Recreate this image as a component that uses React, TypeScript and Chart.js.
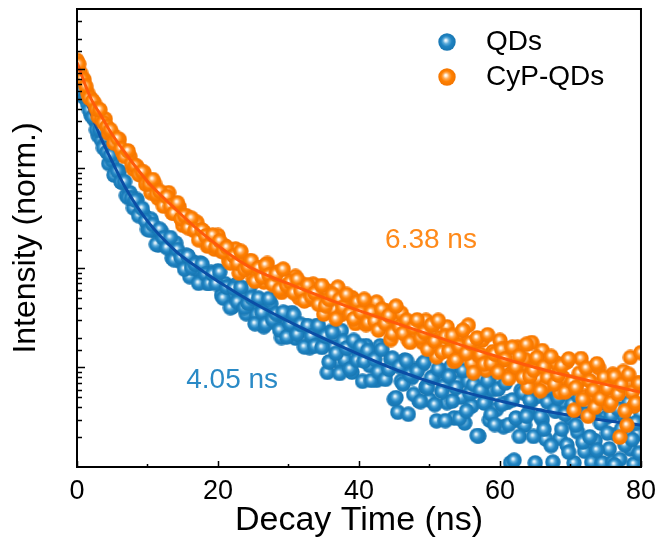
import React, { useEffect, useRef } from "react";
import { Chart, registerables } from "chart.js";

Chart.register(...registerables);

// ---------- data ----------
// decay samples on the whole / half nanosecond
const timeNs = [
  0, 0.5, 1, 1.5, 2, 2.5, 3, 3.5, 4, 4.5,
  5, 5.5, 6, 6.5, 7, 7.5, 8, 8.5, 9, 9.5,
  10, 10.5, 11, 11.5, 12, 12.5, 13, 13.5, 14, 14.5,
  15, 15.5, 16, 16.5, 17, 17.5, 18, 18.5, 19, 19.5,
  20, 20.5, 21, 21.5, 22, 22.5, 23, 23.5, 24, 24.5,
  25, 25.5, 26, 26.5, 27, 27.5, 28, 28.5, 29, 29.5,
  30, 30.5, 31, 31.5, 32, 32.5, 33, 33.5, 34, 34.5,
  35, 35.5, 36, 36.5, 37, 37.5, 38, 38.5, 39, 39.5,
  40, 40.5, 41, 41.5, 42, 42.5, 43, 43.5, 44, 44.5,
  45, 45.5, 46, 46.5, 47, 47.5, 48, 48.5, 49, 49.5,
  50, 50.5, 51, 51.5, 52, 52.5, 53, 53.5, 54, 54.5,
  55, 55.5, 56, 56.5, 57, 57.5, 58, 58.5, 59, 59.5,
  60, 60.5, 61, 61.5, 62, 62.5, 63, 63.5, 64, 64.5,
  65, 65.5, 66, 66.5, 67, 67.5, 68, 68.5, 69, 69.5,
  70, 70.5, 71, 71.5, 72, 72.5, 73, 73.5, 74, 74.5,
  75, 75.5, 76, 76.5, 77, 77.5, 78, 78.5, 79, 79.5,
  80,
];

const qdsIntensity = [
  1.02, 0.794, 0.519, 0.447, 0.342, 0.307, 0.214, 0.191, 0.178, 0.112,
  0.121, 0.0912, 0.0933, 0.0724, 0.0536, 0.0570, 0.0402, 0.0488, 0.0358, 0.0341,
  0.0245, 0.0309, 0.0236, 0.0170, 0.0231, 0.0173, 0.0178, 0.0126, 0.0178, 0.0118,
  0.0131, 0.0134, 0.00817, 0.0115, 0.00973, 0.0112, 0.00800, 0.00699, 0.00906, 0.00759,
  0.00936, 0.00533, 0.00695, 0.00540, 0.00406, 0.00676, 0.00481, 0.00568, 0.00347, 0.00638,
  0.00415, 0.00340, 0.00463, 0.00257, 0.00387, 0.00438, 0.00284, 0.00331, 0.00200, 0.00352,
  0.00260, 0.00356, 0.00197, 0.00270, 0.00196, 0.00262, 0.00158, 0.00214, 0.00264, 0.00175,
  0.00219, 0.000893, 0.00230, 0.00161, 0.00116, 0.00235, 0.00120, 0.00159, 0.000897, 0.00167,
  0.00137, 0.000727, 0.00166, 0.00105, 0.00136, 0.000744, 0.00165, 0.000776, 0.000929, 0.00122,
  0.000480, 0.000355, 0.000729, 0.00119, 0.000339, 0.000793, 0.000955, 0.000462, 0.00107, 0.000637,
  0.000473, 0.000809, 0.000291, 0.000912, 0.000652, 0.000443, 0.00101, 0.000311, 0.000708, 0.000505,
  0.000277, 0.000726, 0.000410, 0.000583, 0.000205, 0.000762, 0.000467, 0.000297, 0.000600, 0.000379,
  0.000716, 0.000254, 0.000445, 0.000110, 0.000117, 0.000294, 0.000589, 0.000264, 0.000346, 0.000468,
  0.000110, 0.000514, 0.000299, 0.000191, 0.000610, 0.000112, 0.000366, 0.000194, 0.000445, 0.000166,
  0.000309, 0.000110, 0.000226, 0.000365, 0.000144, 0.000389, 0.000112, 0.000184, 0.000467, 0.000110,
  0.000313, 0.000152, 0.000112, 0.000212, 0.000119, 0.000331, 0.000274, 0.000152, 0.000107, 0.000214,
  0.000342,
];

const cypQdsIntensity = [
  1.22, 0.914, 0.783, 0.577, 0.501, 0.449, 0.331, 0.316, 0.313, 0.226,
  0.224, 0.182, 0.195, 0.143, 0.135, 0.132, 0.0989, 0.105, 0.0861, 0.0912,
  0.0728, 0.0569, 0.0705, 0.0502, 0.0550, 0.0460, 0.0570, 0.0357, 0.0368, 0.0410,
  0.0269, 0.0335, 0.0279, 0.0240, 0.0288, 0.0211, 0.0230, 0.0166, 0.0191, 0.0155,
  0.0212, 0.0147, 0.0166, 0.0119, 0.0130, 0.0155, 0.00889, 0.0119, 0.00984, 0.0117,
  0.00785, 0.00912, 0.0101, 0.00724, 0.0111, 0.00741, 0.00804, 0.00912, 0.00568, 0.00776,
  0.00610, 0.00631, 0.00822, 0.00501, 0.00687, 0.00580, 0.00490, 0.00687, 0.00492, 0.00548,
  0.00344, 0.00588, 0.00449, 0.00385, 0.00641, 0.00341, 0.00474, 0.00372, 0.00503, 0.00277,
  0.00375, 0.00423, 0.00270, 0.00355, 0.00288, 0.00454, 0.00257, 0.00290, 0.00368, 0.00191,
  0.00309, 0.00245, 0.00351, 0.00253, 0.00188, 0.00278, 0.00201, 0.00248, 0.00178, 0.00297,
  0.00191, 0.00264, 0.00128, 0.00198, 0.00161, 0.00256, 0.00190, 0.00115, 0.00210, 0.00134,
  0.00154, 0.00266, 0.00110, 0.00177, 0.00132, 0.00189, 0.000949, 0.00117, 0.00144, 0.000985,
  0.00187, 0.00119, 0.00155, 0.000863, 0.000949, 0.00160, 0.00102, 0.00121, 0.000633, 0.00178,
  0.00100, 0.000776, 0.00148, 0.000659, 0.000955, 0.000770, 0.00111, 0.000563, 0.000785, 0.00114,
  0.000621, 0.000372, 0.000698, 0.00123, 0.000512, 0.000324, 0.000533, 0.000398, 0.000995, 0.000565,
  0.000759, 0.000415, 0.000855, 0.000614, 0.000200, 0.000912, 0.000263, 0.00126, 0.000410, 0.000695,
  0.00141,
];

// decay samples between them (quarter nanoseconds)
const timeNsMid = [
  0.25, 0.75, 1.25, 1.75, 2.25, 2.75, 3.25, 3.75, 4.25, 4.75,
  5.25, 5.75, 6.25, 6.75, 7.25, 7.75, 8.25, 8.75, 9.25, 9.75,
  10.25, 10.75, 11.25, 11.75, 12.25, 12.75, 13.25, 13.75, 14.25, 14.75,
  15.25, 15.75, 16.25, 16.75, 17.25, 17.75, 18.25, 18.75, 19.25, 19.75,
  20.25, 20.75, 21.25, 21.75, 22.25, 22.75, 23.25, 23.75, 24.25, 24.75,
  25.25, 25.75, 26.25, 26.75, 27.25, 27.75, 28.25, 28.75, 29.25, 29.75,
  30.25, 30.75, 31.25, 31.75, 32.25, 32.75, 33.25, 33.75, 34.25, 34.75,
  35.25, 35.75, 36.25, 36.75, 37.25, 37.75, 38.25, 38.75, 39.25, 39.75,
  40.25, 40.75, 41.25, 41.75, 42.25, 42.75, 43.25, 43.75, 44.25, 44.75,
  45.25, 45.75, 46.25, 46.75, 47.25, 47.75, 48.25, 48.75, 49.25, 49.75,
  50.25, 50.75, 51.25, 51.75, 52.25, 52.75, 53.25, 53.75, 54.25, 54.75,
  55.25, 55.75, 56.25, 56.75, 57.25, 57.75, 58.25, 58.75, 59.25, 59.75,
  60.25, 60.75, 61.25, 61.75, 62.25, 62.75, 63.25, 63.75, 64.25, 64.75,
  65.25, 65.75, 66.25, 66.75, 67.25, 67.75, 68.25, 68.75, 69.25, 69.75,
  70.25, 70.75, 71.25, 71.75, 72.25, 72.75, 73.25, 73.75, 74.25, 74.75,
  75.25, 75.75, 76.25, 76.75, 77.25, 77.75, 78.25, 78.75, 79.25, 79.75,
];

const qdsIntensityMid = [
  0.895, 0.595, 0.524, 0.387, 0.328, 0.245, 0.246, 0.161, 0.146, 0.136,
  0.0859, 0.0944, 0.0731, 0.0738, 0.0510, 0.0503, 0.0479, 0.0335, 0.0396, 0.0297,
  0.0240, 0.0273, 0.0173, 0.0245, 0.0200, 0.0160, 0.0202, 0.0121, 0.0153, 0.0128,
  0.00972, 0.0132, 0.0101, 0.0109, 0.00702, 0.0109, 0.00867, 0.00699, 0.00867, 0.00697,
  0.00910, 0.00498, 0.00644, 0.00400, 0.00627, 0.00457, 0.00640, 0.00399, 0.00443, 0.00503,
  0.00275, 0.00497, 0.00358, 0.00272, 0.00493, 0.00302, 0.00347, 0.00238, 0.00358, 0.00203,
  0.00275, 0.00340, 0.00216, 0.00271, 0.00161, 0.00263, 0.00208, 0.00165, 0.00264, 0.00159,
  0.00207, 0.00114, 0.00226, 0.00139, 0.000871, 0.00183, 0.00157, 0.000966, 0.00187, 0.00118,
  0.00163, 0.00116, 0.00148, 0.000741, 0.00121, 0.000908, 0.00152, 0.000760, 0.000964, 0.00124,
  0.000498, 0.00102, 0.000684, 0.00117, 0.000847, 0.000537, 0.000916, 0.000455, 0.00113, 0.000629,
  0.000783, 0.000424, 0.000969, 0.000573, 0.000292, 0.000818, 0.000461, 0.000629, 0.000308, 0.000935,
  0.000367, 0.000552, 0.000675, 0.000207, 0.000592, 0.000440, 0.000738, 0.000339, 0.000267, 0.000607,
  0.000427, 0.000698, 0.000267, 0.000472, 0.000311, 0.000203, 0.000557, 0.000324, 0.000472, 0.000203,
  0.000679, 0.000324, 0.000240, 0.000451, 0.000164, 0.000368, 0.000497, 0.000240, 0.000339, 0.000141,
  0.000430, 0.000262, 0.000501, 0.000178, 0.000342, 0.000201, 0.000365, 0.000148, 0.000277, 0.000440,
  0.000219, 0.000330, 0.000105, 0.000385, 0.000242, 0.000167, 0.000445, 0.000189, 0.000279, 0.000138,
];

const cypQdsIntensityMid = [
  1.12, 0.787, 0.671, 0.512, 0.478, 0.394, 0.389, 0.288, 0.263, 0.245,
  0.180, 0.200, 0.158, 0.132, 0.150, 0.112, 0.107, 0.0875, 0.0927, 0.0695,
  0.0698, 0.0774, 0.0551, 0.0589, 0.0419, 0.0521, 0.0421, 0.0355, 0.0452, 0.0311,
  0.0335, 0.0254, 0.0316, 0.0240, 0.0192, 0.0241, 0.0210, 0.0170, 0.0214, 0.0164,
  0.0187, 0.0146, 0.0161, 0.0112, 0.0132, 0.0112, 0.0147, 0.00966, 0.0103, 0.0118,
  0.00736, 0.0100, 0.00808, 0.0107, 0.00847, 0.00681, 0.00867, 0.00607, 0.00972, 0.00666,
  0.00720, 0.00564, 0.00771, 0.00592, 0.00466, 0.00672, 0.00514, 0.00560, 0.00432, 0.00666,
  0.00417, 0.00483, 0.00544, 0.00308, 0.00481, 0.00403, 0.00542, 0.00347, 0.00308, 0.00455,
  0.00358, 0.00484, 0.00283, 0.00360, 0.00293, 0.00238, 0.00385, 0.00278, 0.00332, 0.00219,
  0.00413, 0.00256, 0.00221, 0.00299, 0.00179, 0.00251, 0.00301, 0.00199, 0.00224, 0.00152,
  0.00268, 0.00184, 0.00297, 0.00143, 0.00205, 0.00146, 0.00210, 0.00119, 0.00164, 0.00237,
  0.00139, 0.00177, 0.000889, 0.00198, 0.00135, 0.00108, 0.00213, 0.00110, 0.00137, 0.000897,
  0.00152, 0.00122, 0.000776, 0.00160, 0.00101, 0.00130, 0.000796, 0.00171, 0.000822, 0.000939,
  0.00126, 0.000583, 0.00102, 0.000794, 0.00129, 0.000679, 0.000841, 0.00104, 0.000568, 0.00122,
  0.000718, 0.000629, 0.000875, 0.000478, 0.000985, 0.000733, 0.000592, 0.00109, 0.000488, 0.000796,
  0.000618, 0.000444, 0.000814, 0.000541, 0.000673, 0.000367, 0.000853, 0.000566, 0.000440, 0.000692,
];

const fitTimeNs = [0, 1, 2, 3.5, 5, 7, 10, 14, 17.4, 21, 24.5, 31.5, 38.5, 45.5, 52.6, 59.6, 66.6, 73.7, 80];
const qdsFit = [
  1.05, 0.562, 0.355, 0.195, 0.117, 0.0617, 0.0295, 0.0148, 0.00977, 0.00661,
  0.00468, 0.00257, 0.00151, 0.000933, 0.000631, 0.000468, 0.000363, 0.000302, 0.000263,
];
const cypQdsFit = [
  1.17, 0.741, 0.501, 0.331, 0.219, 0.138, 0.0741, 0.0389, 0.0234, 0.0148,
  0.0102, 0.00631, 0.00407, 0.00275, 0.00186, 0.00129, 0.000933, 0.000708, 0.000562,
];

const seriesNames = ["QDs", "CyP-QDs"];
const lifetimeLabels = ["4.05 ns", "6.38 ns"];
const xMinorTicks = [10, 30, 50, 70];

// ---------- styling ----------
const FONT = '"Liberation Sans", Arial, Helvetica, sans-serif';
const BLUE = { light: "#d8ecf8", mid: "#5aaad9", base: "#1f83c2", dark: "#1775b0" };
const ORANGE = { light: "#fff2e0", mid: "#ffaa55", base: "#ff8000", dark: "#f27400" };
const BLUE_FIT = "#0b4ea6";
const ORANGE_FIT = "#ff5a0a";
const BLUE_TEXT = "#2a8ac6";
const ORANGE_TEXT = "#ff8a1a";

// annotation anchors (data coordinates)
const annotationTime = [15.5, 43.7];
const annotationLevel = [6.2e-4, 1.58e-2];

function makeSphere(c: { light: string; mid: string; base: string; dark: string }, r: number) {
  const cv = document.createElement("canvas");
  cv.width = r * 2;
  cv.height = r * 2;
  const g = cv.getContext("2d")!;
  const grad = g.createRadialGradient(r * 0.85, r * 0.8, 0, r, r, r);
  grad.addColorStop(0, "#ffffff");
  grad.addColorStop(0.12, c.light);
  grad.addColorStop(0.35, c.mid);
  grad.addColorStop(0.6, c.base);
  grad.addColorStop(1, c.dark);
  g.fillStyle = grad;
  g.beginPath();
  g.arc(r, r, r - 0.3, 0, Math.PI * 2);
  g.fill();
  return cv;
}

export default function App() {
  const ref = useRef<HTMLCanvasElement | null>(null);

  useEffect(() => {
    if (!ref.current) return;
    const R = 8;
    const LR = 9;
    const blueSphere = makeSphere(BLUE, R);
    const orangeSphere = makeSphere(ORANGE, R);
    const blueLegend = makeSphere(BLUE, LR);
    const orangeLegend = makeSphere(ORANGE, LR);

    const decorPlugin = {
      id: "decor",
      afterDatasetsDraw(chart: any) {
        const { ctx, chartArea: a, scales } = chart;
        const xs = scales.x;
        const ys = scales.y;
        ctx.save();
        ctx.strokeStyle = "#000";
        ctx.lineWidth = 2;
        ctx.strokeRect(a.left, a.top, a.right - a.left, a.bottom - a.top);

        ctx.lineWidth = 1.5;
        ctx.beginPath();
        for (const t of xs.ticks) {
          const px = Math.round(xs.getPixelForValue(t.value)) + 0.5;
          ctx.moveTo(px, a.bottom);
          ctx.lineTo(px, a.bottom - 6);
        }
        for (const v of xMinorTicks) {
          const px = Math.round(xs.getPixelForValue(v)) + 0.5;
          ctx.moveTo(px, a.bottom);
          ctx.lineTo(px, a.bottom - 3);
        }
        for (const t of ys.ticks) {
          const py = Math.round(ys.getPixelForValue(t.value)) + 0.5;
          if (py < a.top + 1 || py > a.bottom - 1) continue;
          const lg = Math.log10(t.value);
          const major = Math.abs(lg - Math.round(lg)) < 1e-6;
          ctx.moveTo(a.left, py);
          ctx.lineTo(a.left + (major ? 8 : 5), py);
        }
        ctx.stroke();
        ctx.restore();
      },
      afterDraw(chart: any) {
        const { ctx, scales } = chart;
        const xs = scales.x;
        const ys = scales.y;
        ctx.save();
        ctx.font = `28px ${FONT}`;
        ctx.textBaseline = "alphabetic";
        ctx.textAlign = "left";
        const colors = [BLUE_TEXT, ORANGE_TEXT];
        lifetimeLabels.forEach((txt, i) => {
          ctx.fillStyle = colors[i];
          ctx.fillText(txt, xs.getPixelForValue(annotationTime[i]), ys.getPixelForValue(annotationLevel[i]));
        });
        const lx = 447;
        const rows = [42, 77];
        const sprites = [blueLegend, orangeLegend];
        ctx.font = `28px ${FONT}`;
        ctx.textBaseline = "middle";
        ctx.fillStyle = "#000";
        seriesNames.forEach((name, i) => {
          ctx.drawImage(sprites[i], lx - LR, rows[i] - LR);
          ctx.fillText(name, 486, rows[i]);
        });
        ctx.restore();
      },
    };

    const toPts = (xsArr: number[], ysArr: number[]) => xsArr.map((x, i) => ({ x, y: ysArr[i] }));

    const chart = new Chart(ref.current, {
      type: "scatter",
      data: {
        datasets: [
          {
            label: "QDs",
            data: [...toPts(timeNs, qdsIntensity), ...toPts(timeNsMid, qdsIntensityMid)],
            pointStyle: blueSphere as any,
            pointRadius: R,
            order: 4,
            clip: 0,
          },
          {
            label: "QDs fit",
            data: toPts(fitTimeNs, qdsFit),
            showLine: true,
            borderColor: BLUE_FIT,
            borderWidth: 3,
            pointRadius: 0,
            cubicInterpolationMode: "monotone",
            order: 3,
            clip: 0,
          },
          {
            label: "CyP-QDs",
            data: [...toPts(timeNs, cypQdsIntensity), ...toPts(timeNsMid, cypQdsIntensityMid)],
            pointStyle: orangeSphere as any,
            pointRadius: R,
            order: 2,
            clip: 0,
          },
          {
            label: "CyP-QDs fit",
            data: toPts(fitTimeNs, cypQdsFit),
            showLine: true,
            borderColor: ORANGE_FIT,
            borderWidth: 3,
            pointRadius: 0,
            cubicInterpolationMode: "monotone",
            order: 1,
            clip: 0,
          },
        ] as any,
      },
      options: {
        responsive: false,
        animation: false,
        devicePixelRatio: 1,
        layout: { padding: { top: 7, right: 19, left: 0, bottom: 0 } },
        plugins: { legend: { display: false }, tooltip: { enabled: false } },
        scales: {
          x: {
            type: "linear",
            min: 0,
            max: 80,
            grid: { display: false, drawTicks: false },
            border: { display: false },
            ticks: { stepSize: 20, color: "#000", font: { family: FONT, size: 27 }, padding: 8, maxRotation: 0 },
            title: {
              display: true,
              text: "Decay Time (ns)",
              color: "#000",
              font: { family: FONT, size: 34 },
              padding: { top: 0, bottom: 4 },
            },
            afterFit: (s: any) => {
              s.height = 78;
            },
          },
          y: {
            type: "logarithmic",
            min: 1e-4,
            max: 4,
            grid: { display: false, drawTicks: false },
            border: { display: false },
            ticks: { display: false },
            title: {
              display: true,
              text: "Intensity (norm.)",
              color: "#000",
              font: { family: FONT, size: 32 },
              padding: { top: 7, bottom: 0 },
            },
            afterFit: (s: any) => {
              s.width = 77;
            },
          },
        },
      } as any,
      plugins: [decorPlugin],
    });

    return () => chart.destroy();
  }, []);

  return (
    <div style={{ position: "absolute", left: 0, top: 0, width: 664, height: 545, background: "#fff" }}>
      <canvas ref={ref} width={664} height={545} />
    </div>
  );
}
